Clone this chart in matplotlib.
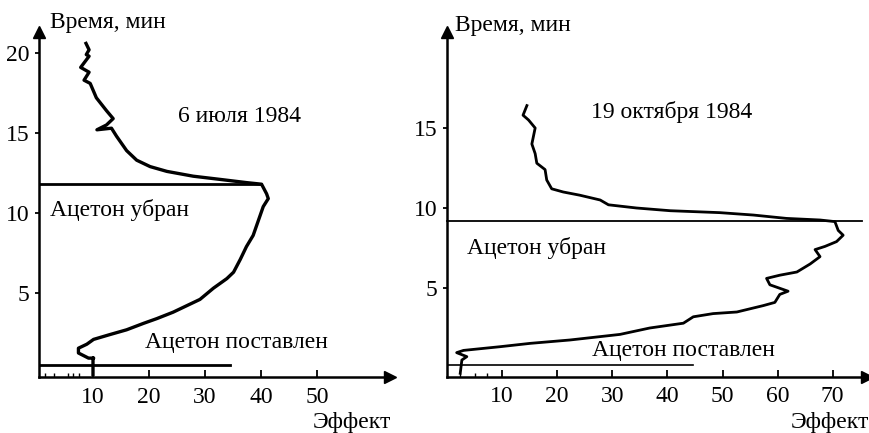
# Two acetone response traces, redrawn from a scanned figure
import matplotlib.pyplot as plt
import numpy as np

plt.rcParams['font.family'] = ['Liberation Serif', 'DejaVu Serif']

# Left panel: 6 July 1984 (effect vs time, time on vertical axis)
left_effect = [8.75, 9.3, 8.8, 9.3, 7.8, 9.3, 8.4, 9.5, 10.6, 11.5, 12.4, 13.6, 12.4, 10.7, 13.3,
               14.2, 16.0, 17.8, 20.2, 23.2, 27.9, 32.7, 37.4, 40.1, 41.0, 41.3, 40.4,
               39.2, 38.6, 37.4, 36.3, 35.1, 33.9, 31.5, 29.1, 26.7, 24.3, 21.4, 19.0,
               16.0, 13.0, 10.1, 8.9, 7.4, 7.4, 9.2, 10.1, 10.0, 10.0]
left_time = [20.6, 20.2, 19.9, 19.8, 19.1, 18.8, 18.3, 18.1, 17.2, 16.8, 16.4, 15.9, 15.5, 15.2, 15.3,
             14.8, 13.9, 13.3, 12.9, 12.6, 12.3, 12.1, 11.9, 11.8, 11.2, 10.9, 10.4,
             9.2, 8.6, 7.9, 7.1, 6.3, 5.9, 5.3, 4.6, 4.2, 3.8, 3.4, 3.1,
             2.7, 2.4, 2.1, 1.8, 1.55, 1.25, 0.93, 0.93, 0.93, -0.1]

# Right panel: 19 October 1984
right_effect = [14.5, 13.8, 14.8, 16.0, 15.4, 16.0, 16.3, 17.8, 18.1, 19.0, 21.1, 24.1,
                27.8, 29.3, 34.4, 40.5, 49.5, 55.6, 61.6, 67.7, 70.4, 71.0, 71.9, 70.7,
                68.6, 66.8, 67.7, 65.9, 63.5, 60.4, 58.0, 58.6, 61.9, 60.4, 59.5, 57.4,
                52.6, 48.3, 44.7, 42.9, 36.8, 31.4, 22.3, 15.1, 9.6, 3.0, 1.75, 3.6,
                2.7, 2.4]
right_time = [16.4, 15.8, 15.5, 15.0, 14.0, 13.4, 12.8, 12.4, 11.75, 11.2, 11.0, 10.8,
              10.5, 10.2, 10.0, 9.83, 9.71, 9.56, 9.35, 9.25, 9.15, 8.6, 8.3, 7.9,
              7.6, 7.4, 6.96, 6.5, 6.0, 5.8, 5.6, 5.2, 4.8, 4.6, 4.1, 3.9,
              3.5, 3.4, 3.2, 2.8, 2.5, 2.1, 1.75, 1.54, 1.33, 1.1, 0.96, 0.71,
              0.5, -0.33]

# marker lines: (time, end of line on effect axis)
left_removed = (11.8, 40.0)
left_placed = (0.5, 34.5)
right_removed = (9.2, 75.3)
right_placed = (0.2, 44.7)

left_xticks = [10, 20, 30, 40, 50]
left_yticks = [5, 10, 15, 20]
right_xticks = [10, 20, 30, 40, 50, 60, 70]
right_yticks = [5, 10, 15]

fig = plt.figure(figsize=(8.7, 4.33), dpi=100)

# axes placed in pixels so both panels line up with the scan
def make_axes(x0_px, px_per_x, xlim, y0_px, px_per_y, ylim):
    left = (x0_px + (xlim[0]) * px_per_x) / 870
    width = (xlim[1] - xlim[0]) * px_per_x / 870
    bottom = (433 - (y0_px - ylim[0] * px_per_y)) / 433
    height = (ylim[1] - ylim[0]) * px_per_y / 433
    ax = fig.add_axes([left, bottom, width, height])
    ax.set_xlim(xlim)
    ax.set_ylim(ylim)
    return ax

ax1 = make_axes(37, 5.6, (0.35, 63), 373, 16, (-0.25, 21.3))
ax2 = make_axes(447, 5.51, (0, 76.2), 368, 16, (-0.54, 21.0))

def style_axes(ax, xticks, yticks, minor):
    ax.spines['top'].set_visible(False)
    ax.spines['right'].set_visible(False)
    ax.spines['left'].set_linewidth(1.8)
    ax.spines['bottom'].set_linewidth(1.8)
    ax.set_xticks(xticks)
    ax.set_yticks(yticks)
    ax.set_xticks(minor, minor=True)
    ax.tick_params(axis='x', direction='in', length=5, width=1.3, pad=7, labelsize=17)
    ax.tick_params(axis='x', which='minor', direction='in', length=3, width=1.0)
    ax.tick_params(axis='y', direction='out', length=3, width=1.3, pad=4, labelsize=17)
    # arrow heads at the end of each axis
    ax.plot(1, 0, '>k', markersize=9, transform=ax.transAxes, clip_on=False)
    ax.plot(0, 1, '^k', markersize=9, transform=ax.transAxes, clip_on=False)

style_axes(ax1, left_xticks, left_yticks, [1.5, 3, 5.5, 6.5, 7.5])
style_axes(ax2, right_xticks, right_yticks, [2.4, 5.1, 7.2])

# traces
ax1.plot(left_effect, left_time, color='black', linewidth=2.4, clip_on=False)
ax2.plot(right_effect, right_time, color='black', linewidth=2.0, clip_on=False)

# acetone placed / removed lines
ax1.plot([0.35, left_removed[1]], [left_removed[0]] * 2, color='black', linewidth=2.0)
ax1.plot([0.35, left_placed[1]], [left_placed[0]] * 2, color='black', linewidth=2.0)
ax2.plot([0, right_removed[1]], [right_removed[0]] * 2, color='black', linewidth=1.3, clip_on=False)
ax2.plot([0, right_placed[1]], [right_placed[0]] * 2, color='black', linewidth=1.2)

# labels
fs = 17
ax1.text(12.7, 21.9, 'Время, мин', fontsize=fs, ha='center', va='center', clip_on=False)
ax1.text(36.1, 16.0, '6 июля 1984', fontsize=fs, ha='center', va='center')
ax1.text(14.8, 10.2, 'Ацетон убран', fontsize=fs, ha='center', va='center')
ax1.text(35.7, 1.9, 'Ацетон поставлен', fontsize=fs, ha='center', va='center')
ax1.text(56.2, -3.1, 'Эффект', fontsize=fs, ha='center', va='center', clip_on=False)

ax2.text(12.0, 21.4, 'Время, мин', fontsize=fs, ha='center', va='center', clip_on=False)
ax2.text(40.8, 16.0, '19 октября 1984', fontsize=fs, ha='center', va='center')
ax2.text(16.3, 7.5, 'Ацетон убран', fontsize=fs, ha='center', va='center')
ax2.text(42.9, 1.1, 'Ацетон поставлен', fontsize=fs, ha='center', va='center')
ax2.text(69.5, -3.4, 'Эффект', fontsize=fs, ha='center', va='center', clip_on=False)

fig.savefig('out.png', dpi=100)
